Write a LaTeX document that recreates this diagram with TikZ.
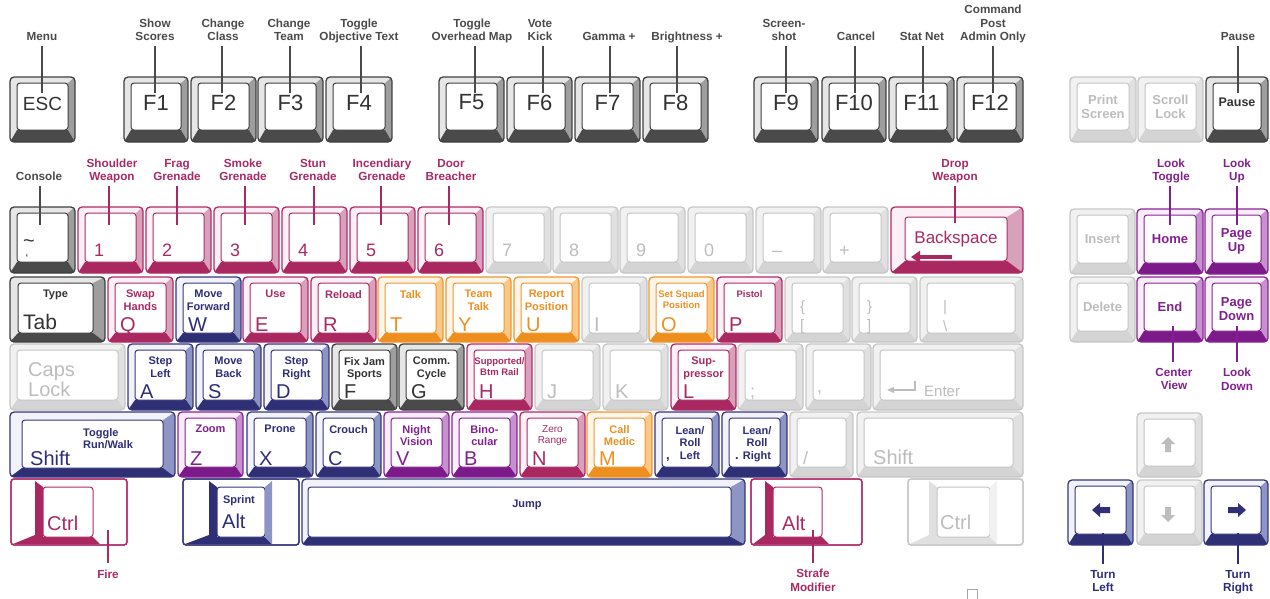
\documentclass[tikz,border=0pt]{standalone}
\usepackage{fontspec}
\setmainfont{Liberation Sans}
\usetikzlibrary{calc,arrows.meta}

\definecolor{gyline}{HTML}{3F3F3F}
\definecolor{gydark}{HTML}{4A4A4A}
\definecolor{gymid}{HTML}{9E9E9E}
\definecolor{gylight}{HTML}{E6E6E6}
\definecolor{gytext}{HTML}{333333}
\definecolor{gylab}{HTML}{4A4A4A}
\definecolor{lgline}{HTML}{C6C6C6}
\definecolor{lgdark}{HTML}{D4D4D4}
\definecolor{lgmid}{HTML}{E0E0E0}
\definecolor{lglight}{HTML}{F1F1F1}
\definecolor{lgtext}{HTML}{BDBDBD}
\definecolor{pkline}{HTML}{B02A68}
\definecolor{pkdark}{HTML}{A8285F}
\definecolor{pkmid}{HTML}{D9A0BA}
\definecolor{pklight}{HTML}{FBF0F5}
\definecolor{pktext}{HTML}{A82A64}
\definecolor{blline}{HTML}{36367E}
\definecolor{bldark}{HTML}{2F2F76}
\definecolor{blmid}{HTML}{8C95C4}
\definecolor{bllight}{HTML}{F1F2FA}
\definecolor{bltext}{HTML}{2E2E78}
\definecolor{ogline}{HTML}{F0962C}
\definecolor{ogdark}{HTML}{EE8E1E}
\definecolor{ogmid}{HTML}{F8C888}
\definecolor{oglight}{HTML}{FEF5EA}
\definecolor{ogtext}{HTML}{EF8F22}
\definecolor{puline}{HTML}{8A2196}
\definecolor{pudark}{HTML}{7B1A88}
\definecolor{pumid}{HTML}{C691CE}
\definecolor{pulight}{HTML}{F8EEF9}
\definecolor{putext}{HTML}{82208F}

\tikzset{
  outer/.style={line width=1.3pt, rounded corners=4pt},
  face/.style={fill=white, line width=1pt, rounded corners=3pt, inner sep=0pt, outer sep=0pt},
  lab/.style={font=\bfseries\fontsize{11.7}{13.5}\selectfont, align=center, inner sep=1pt, execute at end node=\strut},
  conn/.style={line width=1.4pt},
  klab/.style={font=\bfseries\fontsize{11}{12.5}\selectfont, align=center, inner sep=0pt},
  ksmall/.style={font=\bfseries\fontsize{9.5}{11}\selectfont, align=center, inner sep=0pt},
  kthin/.style={font=\fontsize{10}{11.5}\selectfont, align=center, inner sep=0pt},
  kbig/.style={font=\fontsize{20}{20}\selectfont, inner sep=0pt},
  kfn/.style={font=\fontsize{22}{22}\selectfont, inner sep=0pt},
  kdig/.style={font=\fontsize{18}{18}\selectfont, inner sep=0pt},
  knav/.style={font=\bfseries\fontsize{13}{14}\selectfont, align=center, inner sep=0pt},
}

\def\kL{7}\def\kT{6}\def\kR{7}\def\kB{11}
% key: name, x1, y1, x2, y2, colour prefix
\newcommand{\kc}[6]{%
  \begin{scope}
    \clip[rounded corners=4pt] (#2,#3) rectangle (#4,#5);
    \fill[#6light] (#2,#3) rectangle (#4,#5);
    \fill[#6mid] (#4,#3) -- (#4,#5) -- (#4-\kR,#5-\kB) -- (#4-\kR,#3+\kT) -- cycle;
    \fill[#6dark] (#2,#5) -- (#4,#5) -- (#4-\kR,#5-\kB) -- (#2+\kL,#5-\kB) -- cycle;
  \end{scope}
  \draw[#6line, outer] (#2,#3) rectangle (#4,#5);
  \node[face, draw=#6line, minimum width={#4-#2-\kL-\kR}, minimum height={#5-#3-\kT-\kB}]
     (#1) at ({(#2+\kL+#4-\kR)/2},{(#3+\kT+#5-\kB)/2}) {};
}
% modifier key of the bottom row: name, x1, x2, face x1, face x2, colour prefix, band colour
\newcommand{\kmod}[7]{%
  \draw[#6line, line width=1.3pt, rounded corners=3pt, fill=white] (#2,479) rectangle (#3,545);
  \fill[#7] (#4-8,481) -- (#4,487) -- (#4,537) -- (#5,537) -- (#5+7,544) -- (#2+2,544) -- (#4-8,535) -- cycle;
  \draw[#6line, line width=1.3pt, rounded corners=3pt] (#2,479) rectangle (#3,545);
  \node[face, draw=#6line, minimum width={#5-#4}, minimum height=50] (#1) at ({(#4+#5)/2},512) {};
}
\newcommand{\kfnl}[3]{\node[kfn, text=#2] (#1-t) at ($(#1.center)+(0,-4)$) {#3};}
\newcommand{\ktop}[4]{\node[#4, text=#2, anchor=north] (#1-t) at ($(#1.north)+(0,7)$) {#3};}
\newcommand{\klet}[3]{\node[kbig, text=#2, anchor=base west] (#1-l) at ($(#1.south west)+(5,-2)$) {#3};}
\newcommand{\kdg}[3]{\node[kdig, text=#2, anchor=base west] (#1-l) at ($(#1.south west)+(9,-6)$) {#3};}
\newcommand{\kmid}[4]{\node[#4, text=#2] (#1-t) at (#1.center) {#3};}
% callouts: name, label x, line x, label y, line end y, colour, text
\newcommand{\callup}[7]{%
  \node[lab, text=#6, anchor=south] (#1) at (#2,#4) {#7};
  \coordinate (#1-e) at (#3,#5);
  \draw[conn, #6] (#1.south -| #1-e) -- (#1-e);}
\newcommand{\calldown}[7]{%
  \node[lab, text=#6, anchor=north] (#1) at (#2,#4) {#7};
  \coordinate (#1-s) at (#3,#5);
  \draw[conn, #6] (#1-s) -- ($(#1.north -| #1-s)+(0,-5)$);}

\begin{document}
\begin{tikzpicture}[x=1pt,y=-1pt]
\useasboundingbox (0,0) rectangle (1270,598);

% ---------- function row
{\def\kB{12}
\kc{esc}{10}{77}{75}{142}{gy}
\kc{fn1}{124}{77}{188}{142}{gy}
\kc{fn2}{191}{77}{256}{142}{gy}
\kc{fn3}{258}{77}{323}{142}{gy}
\kc{fn4}{326}{77}{392}{142}{gy}
\kc{fn5}{439}{77}{504}{142}{gy}
\kc{fn6}{507}{77}{572}{142}{gy}
\kc{fn7}{575}{77}{640}{142}{gy}
\kc{fn8}{643}{77}{708}{142}{gy}
\kc{fn9}{754}{77}{818}{142}{gy}
\kc{fn10}{822}{77}{886}{142}{gy}
\kc{fn11}{889}{77}{954}{142}{gy}
\kc{fn12}{957}{77}{1023}{142}{gy}
\kc{prt}{1070}{77}{1136}{142}{lg}
\kc{scr}{1138}{77}{1203}{142}{lg}
\kc{pse}{1206}{77}{1268}{142}{gy}
}

\node[kfn, text=gytext, font=\fontsize{19}{19}\selectfont] (esc-t) at ($(esc.center)+(0,-3)$) {ESC};
\kfnl{fn1}{gytext}{F1}
\kfnl{fn2}{gytext}{F2}
\kfnl{fn3}{gytext}{F3}
\kfnl{fn4}{gytext}{F4}
\kfnl{fn5}{gytext}{F5}
\kfnl{fn6}{gytext}{F6}
\kfnl{fn7}{gytext}{F7}
\kfnl{fn8}{gytext}{F8}
\kfnl{fn9}{gytext}{F9}
\kfnl{fn10}{gytext}{F10}
\kfnl{fn11}{gytext}{F11}
\kfnl{fn12}{gytext}{F12}
\kmid{prt}{lgtext}{Print\\Screen}{knav}
\kmid{scr}{lgtext}{Scroll\\Lock}{knav}
\node[knav, text=gytext, font=\bfseries\fontsize{12.5}{14}\selectfont] (pse-t) at ($(pse.center)+(0,-4)$) {Pause};

% ---------- number row
\kc{tld}{10}{207}{75}{273}{gy}
\kc{n1}{78}{207}{143}{273}{pk}
\kc{n2}{146}{207}{211}{273}{pk}
\kc{n3}{214}{207}{279}{273}{pk}
\kc{n4}{282}{207}{347}{273}{pk}
\kc{n5}{350}{207}{415}{273}{pk}
\kc{n6}{418}{207}{483}{273}{pk}
\kc{n7}{486}{207}{551}{273}{lg}
\kc{n8}{553}{207}{618}{273}{lg}
\kc{n9}{620}{207}{685}{273}{lg}
\kc{n0}{688}{207}{753}{273}{lg}
\kc{nmin}{756}{207}{821}{273}{lg}
\kc{nplus}{823}{207}{888}{273}{lg}
{\def\kL{14}\def\kT{10}\def\kR{16}\def\kB{12}\kc{bksp}{891}{207}{1023}{273}{pk}}
\kc{ins}{1070}{209}{1135}{274}{lg}
\kc{home}{1137}{209}{1203}{274}{pu}
\kc{pgup}{1205}{209}{1268}{274}{pu}

\node[font=\fontsize{20}{20}\selectfont, text=gytext, inner sep=0pt] (tld-l) at (29,244) {\textasciitilde};
\node[font=\fontsize{12}{12}\selectfont, text=gytext, inner sep=0pt] (tld-g) at (27,258) {\symbol{96}};
\kdg{n1}{pktext}{1}
\kdg{n2}{pktext}{2}
\kdg{n3}{pktext}{3}
\kdg{n4}{pktext}{4}
\kdg{n5}{pktext}{5}
\kdg{n6}{pktext}{6}
\kdg{n7}{lgtext}{7}
\kdg{n8}{lgtext}{8}
\kdg{n9}{lgtext}{9}
\kdg{n0}{lgtext}{0}
\kdg{nmin}{lgtext}{–}
\kdg{nplus}{lgtext}{+}
\node[font=\fontsize{17}{17}\selectfont, text=pktext, inner sep=0pt] (bksp-t) at (956,239) {Backspace};
\coordinate (bksp-a1) at (952,257);
\coordinate (bksp-a2) at (911,257);
\draw[pkdark, line width=3.5pt, -{Triangle[length=9pt,width=12pt]}] (bksp-a1) -- (bksp-a2);
\kmid{ins}{lgtext}{Insert}{knav}
\kmid{home}{putext}{Home}{knav}
\node[knav, text=putext] (pgup-t) at ($(pgup.center)+(0,2)$) {Page\\Up};

% ---------- QWERTY row
{\def\kB{9}
{\def\kL{8}\def\kR{12}\kc{ktab}{10}{277}{105}{342}{gy}}
\kc{kq}{108}{277}{173}{342}{pk}
\kc{kw}{176}{277}{241}{342}{bl}
\kc{ke}{243}{277}{308}{342}{pk}
\kc{kr}{311}{277}{376}{342}{pk}
\kc{kt}{378}{277}{443}{342}{og}
\kc{ky}{446}{277}{511}{342}{og}
\kc{ku}{514}{277}{579}{342}{og}
\kc{ki}{582}{277}{647}{342}{lg}
\kc{ko}{649}{277}{714}{342}{og}
\kc{kp}{717}{277}{782}{342}{pk}
\kc{lbr}{785}{277}{850}{342}{lg}
\kc{rbr}{852}{277}{917}{342}{lg}
{\def\kR{8}\kc{bsl}{920}{277}{1023}{342}{lg}}
}
\kc{kdel}{1070}{277}{1135}{342}{lg}
\kc{kend}{1137}{277}{1203}{342}{pu}
\kc{pgdn}{1205}{277}{1268}{342}{pu}

\ktop{ktab}{gytext}{Type}{klab}
\node[kbig, text=gytext, font=\fontsize{21}{21}\selectfont, anchor=base west] (ktab-l) at (23,329) {Tab};
\ktop{kq}{pktext}{Swap\\Hands}{klab} \klet{kq}{pktext}{Q}
\ktop{kw}{bltext}{Move\\Forward}{klab} \klet{kw}{bltext}{W}
\ktop{ke}{pktext}{Use}{klab} \klet{ke}{pktext}{E}
\ktop{kr}{pktext}{Reload}{klab} \klet{kr}{pktext}{R}
\ktop{kt}{ogtext}{Talk}{klab} \klet{kt}{ogtext}{T}
\ktop{ky}{ogtext}{Team\\Talk}{klab} \klet{ky}{ogtext}{Y}
\ktop{ku}{ogtext}{Report\\Position}{klab} \klet{ku}{ogtext}{U}
\klet{ki}{lgtext}{I}
\ktop{ko}{ogtext}{Set Squad\\Position}{ksmall} \klet{ko}{ogtext}{O}
\ktop{kp}{pktext}{Pistol}{ksmall} \klet{kp}{pktext}{P}
\node[font=\fontsize{15}{15}\selectfont, text=lgtext, anchor=base west, inner sep=0pt] (lbr-a) at (800,311) {\{};
\node[font=\fontsize{15}{15}\selectfont, text=lgtext, anchor=base west, inner sep=0pt] (lbr-b) at (800,330) {[};
\node[font=\fontsize{15}{15}\selectfont, text=lgtext, anchor=base west, inner sep=0pt] (rbr-a) at (867,311) {\}};
\node[font=\fontsize{15}{15}\selectfont, text=lgtext, anchor=base west, inner sep=0pt] (rbr-b) at (867,330) {]};
\node[font=\fontsize{15}{15}\selectfont, text=lgtext, anchor=base west, inner sep=0pt] (bsl-a) at (943,311) {|};
\node[font=\fontsize{15}{15}\selectfont, text=lgtext, anchor=base west, inner sep=0pt] (bsl-b) at (943,331) {\textbackslash};
\kmid{kdel}{lgtext}{Delete}{knav}
\kmid{kend}{putext}{End}{knav}
\node[knav, text=putext] (pgdn-t) at ($(pgdn.center)+(0,2)$) {Page\\Down};

% ---------- ASDF row
{\def\kB{10}
\kc{caps}{10}{344}{125}{410}{lg}
\kc{ka}{128}{344}{193}{410}{bl}
\kc{ks}{196}{344}{261}{410}{bl}
\kc{kd}{264}{344}{329}{410}{bl}
\kc{kf}{332}{344}{397}{410}{gy}
\kc{kg}{399}{344}{464}{410}{gy}
\kc{kh}{467}{344}{532}{410}{pk}
\kc{kj}{535}{344}{600}{410}{lg}
\kc{kk}{603}{344}{668}{410}{lg}
\kc{kl}{671}{344}{736}{410}{pk}
\kc{ksemi}{738}{344}{803}{410}{lg}
\kc{kapos}{806}{344}{871}{410}{lg}
{\def\kR{8}\kc{enter}{873}{344}{1023}{410}{lg}}
}

\node[kbig, text=lgtext, align=left, anchor=north west] (caps-l) at (28,362) {Caps\\Lock};
\ktop{ka}{bltext}{Step\\Left}{klab} \klet{ka}{bltext}{A}
\ktop{ks}{bltext}{Move\\Back}{klab} \klet{ks}{bltext}{S}
\ktop{kd}{bltext}{Step\\Right}{klab} \klet{kd}{bltext}{D}
\ktop{kf}{gytext}{Fix Jam\\Sports}{klab} \klet{kf}{gytext}{F}
\ktop{kg}{gytext}{Comm.\\Cycle}{klab} \klet{kg}{gytext}{G}
\ktop{kh}{pktext}{Supported/\\Btm Rail}{ksmall} \klet{kh}{pktext}{H}
\klet{kj}{lgtext}{J}
\klet{kk}{lgtext}{K}
\ktop{kl}{pktext}{Sup-\\pressor}{klab} \klet{kl}{pktext}{L}
\node[kdig, text=lgtext, anchor=base west] (ksemi-l) at (750,397) {;};
\node[kdig, text=lgtext, anchor=base west] (kapos-l) at (817,392) {,};
\coordinate (enter-a1) at (915,381);
\coordinate (enter-a2) at (915,390);
\coordinate (enter-a3) at (887,390);
\draw[lgtext, line width=1.2pt, -{Triangle[length=7pt,width=6pt]}] (enter-a1) -- (enter-a2) -- (enter-a3);
\node[font=\fontsize{15}{15}\selectfont, text=lgtext, anchor=base west, inner sep=0pt] (enter-t) at (924,396) {Enter};

% ---------- ZXCV row
{\def\kB{10}
{\def\kL{12}\def\kT{8}\def\kR{12}\def\kB{9}\kc{lsh}{10}{412}{175}{477}{bl}}
\kc{kz}{178}{412}{243}{477}{pu}
\kc{kx}{247}{412}{313}{477}{bl}
\kc{kc}{316}{412}{381}{477}{bl}
\kc{kv}{384}{412}{449}{477}{pu}
\kc{kb}{452}{412}{517}{477}{pu}
\kc{kn}{520}{412}{585}{477}{pk}
\kc{km}{587}{412}{652}{477}{og}
\kc{kcom}{655}{412}{719}{477}{bl}
\kc{kper}{722}{412}{787}{477}{bl}
\kc{kslash}{790}{412}{853}{477}{lg}
{\def\kR{10}\kc{rsh}{857}{412}{1023}{477}{lg}}
}
\kc{aup}{1137}{413}{1202}{477}{lg}

\node[kbig, text=bltext, anchor=base west] (lsh-l) at (30,465) {Shift};
\node[klab, text=bltext, align=left, anchor=north west] (lsh-t) at (83,428) {Toggle\\Run/Walk};
\ktop{kz}{putext}{Zoom}{klab} \klet{kz}{putext}{Z}
\ktop{kx}{bltext}{Prone}{klab} \klet{kx}{bltext}{X}
\ktop{kc}{bltext}{Crouch}{klab} \klet{kc}{bltext}{C}
\ktop{kv}{putext}{Night\\Vision}{klab} \klet{kv}{putext}{V}
\ktop{kb}{putext}{Bino-\\cular}{klab} \klet{kb}{putext}{B}
\ktop{kn}{pktext}{Zero\\Range}{kthin} \klet{kn}{pktext}{N}
\ktop{km}{ogtext}{Call\\Medic}{klab} \klet{km}{ogtext}{M}
\node[klab, text=bltext, anchor=north] (kcom-t) at (690,426) {Lean/\\Roll\\Left};
\node[font=\bfseries\fontsize{13}{13}\selectfont, text=bltext, anchor=base west, inner sep=0pt] (kcom-l) at (666,459) {,};
\node[klab, text=bltext, anchor=north] (kper-t) at (757,426) {Lean/\\Roll\\Right};
\node[font=\bfseries\fontsize{13}{13}\selectfont, text=bltext, anchor=base west, inner sep=0pt] (kper-l) at (735,459) {.};
\node[kdig, text=lgtext, anchor=base west] (kslash-l) at (803,464) {/};
\node[kbig, text=lgtext, anchor=base west] (rsh-l) at (873,464) {Shift};
\fill[lgtext] (1168,437) -- (1175,444) -- (1171,444) -- (1171,452) -- (1165,452) -- (1165,444) -- (1161,444) -- cycle;

% ---------- bottom row
\kmod{lctrl}{11}{127}{43}{93}{pk}{pkdark}
\kmod{lalt}{183}{299}{217}{265}{bl}{bldark}
\fill[blmid] (265,487) -- (272,481) -- (272,544) -- (265,537) -- cycle;
{\def\kL{6}\def\kT{8}\def\kR{14}\def\kB{8}\kc{space}{302}{479}{745}{545}{bl}}
\kmod{ralt}{751}{862}{773}{822}{pk}{pkdark}
\kmod{rctrl}{908}{1023}{937}{990}{lg}{lgmid}
\fill[lglight] (990,487) -- (997,481) -- (997,544) -- (990,537) -- cycle;
\kc{aleft}{1068}{480}{1133}{545}{bl}
\kc{adown}{1137}{480}{1202}{545}{lg}
\kc{aright}{1204}{480}{1268}{545}{bl}

\node[kbig, text=pktext, anchor=base west] (lctrl-l) at (47,530) {Ctrl};
\node[klab, text=bltext] (lalt-t) at (239,501) {Sprint};
\node[kbig, text=bltext, anchor=base west] (lalt-l) at (222,528) {Alt};
\node[klab, text=bltext] (space-t) at (527,505) {Jump};
\node[kbig, text=pktext, anchor=base west] (ralt-l) at (782,530) {Alt};
\node[kbig, text=lgtext, anchor=base west] (rctrl-l) at (940,529) {Ctrl};
\fill[bldark] (1092,510) -- (1100,503) -- (1100,507) -- (1110,507) -- (1110,513) -- (1100,513) -- (1100,517) -- cycle;
\fill[bldark] (1246,510) -- (1238,503) -- (1238,507) -- (1228,507) -- (1228,513) -- (1238,513) -- (1238,517) -- cycle;
\fill[lgtext] (1168,522) -- (1175,515) -- (1171,515) -- (1171,507) -- (1165,507) -- (1165,515) -- (1161,515) -- cycle;

% ---------- callouts above
\callup{Lmenu}{42}{42}{46}{93}{gylab}{Menu}
\callup{Lf1}{155}{155}{46}{93}{gylab}{Show\\Scores}
\callup{Lf2}{223}{222}{46}{93}{gylab}{Change\\Class}
\callup{Lf3}{289}{290}{46}{93}{gylab}{Change\\Team}
\callup{Lf4}{359}{361}{46}{93}{gylab}{Toggle\\Objective Text}
\callup{Lf5}{472}{475}{46}{93}{gylab}{Toggle\\Overhead Map}
\callup{Lf6}{540}{543}{46}{93}{gylab}{Vote\\Kick}
\callup{Lf7}{609}{610}{46}{93}{gylab}{Gamma +}
\callup{Lf8}{687}{677}{46}{93}{gylab}{Brightness +}
\callup{Lf9}{784}{786}{46}{93}{gylab}{Screen-\\shot}
\callup{Lf10}{856}{855}{46}{93}{gylab}{Cancel}
\callup{Lf11}{922}{923}{46}{93}{gylab}{Stat Net}
\callup{Lf12}{993}{993}{46}{93}{gylab}{Command\\Post\\Admin Only}
\callup{Lpause}{1238}{1238}{46}{93}{gylab}{Pause}

\callup{Lcons}{39}{40}{186}{225}{gylab}{Console}
\callup{Ln1}{112}{109}{186}{225}{pktext}{Shoulder\\Weapon}
\callup{Ln2}{177}{177}{186}{225}{pktext}{Frag\\Grenade}
\callup{Ln3}{243}{245}{186}{225}{pktext}{Smoke\\Grenade}
\callup{Ln4}{313}{314}{186}{225}{pktext}{Stun\\Grenade}
\callup{Ln5}{382}{381}{186}{225}{pktext}{Incendiary\\Grenade}
\callup{Ln6}{451}{449}{186}{225}{pktext}{Door\\Breacher}
\callup{Lbksp}{955}{955}{186}{223}{pktext}{Drop\\Weapon}
\callup{Lhome}{1171}{1170}{186}{225}{putext}{Look\\Toggle}
\callup{Lpgup}{1237}{1237}{186}{225}{putext}{Look\\Up}

% ---------- callouts below
\calldown{Lend}{1174}{1173}{367}{326}{putext}{Center\\View}
\calldown{Lpgdn}{1237}{1237}{367}{326}{putext}{Look\\Down}
\calldown{Lfire}{108}{108}{568}{530}{pktext}{Fire}
\calldown{Lstrafe}{813}{813}{568}{530}{pktext}{Strafe\\Modifier}
\calldown{Lleft}{1103}{1103}{569}{533}{bltext}{Turn\\Left}
\calldown{Lright}{1238}{1238}{569}{533}{bltext}{Turn\\Right}

\draw[gray!70, line width=0.8pt] (967,600) -- (967,589) -- (977,589) -- (977,600);
\end{tikzpicture}
\end{document}
